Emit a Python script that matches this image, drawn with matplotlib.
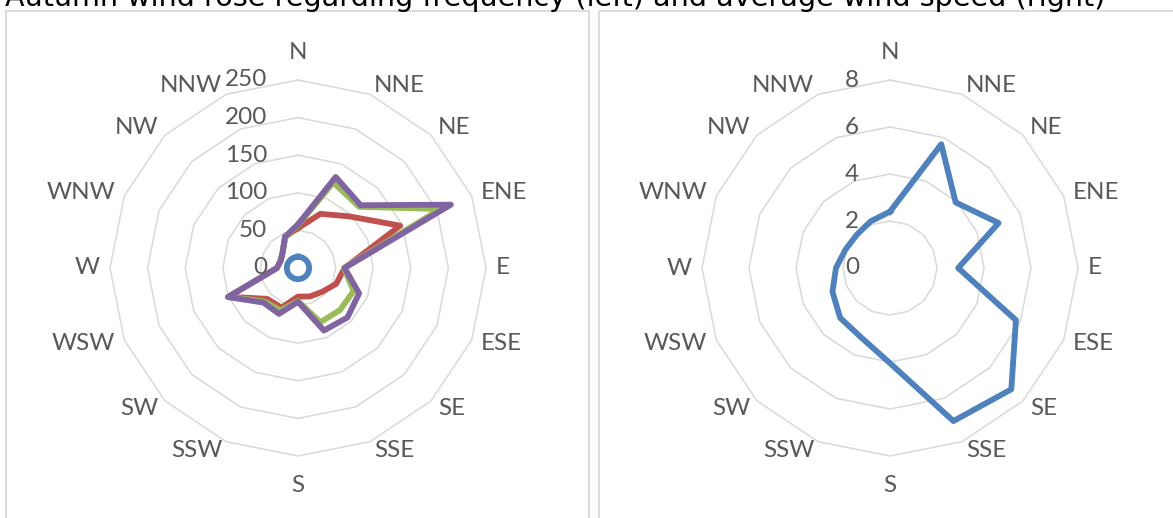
import numpy as np
import matplotlib
matplotlib.use('Agg')
import matplotlib.pyplot as plt
from matplotlib.transforms import offset_copy
from matplotlib.patches import Rectangle

# ---------------- data ----------------
directions = ['N', 'NNE', 'NE', 'ENE', 'E', 'ESE', 'SE', 'SSE',
              'S', 'SSW', 'SW', 'WSW', 'W', 'WNW', 'NW', 'NNW']
freq_blue = [15, 15, 15, 15, 15, 15, 15, 15, 15, 15, 15, 15, 15, 15, 15, 15]
freq_red = [53, 78, 97, 147, 62, 55, 45, 41, 38, 57, 58, 100, 28, 25, 29, 45]
freq_green = [57, 123, 115, 205, 61, 80, 79, 78, 44, 61, 63, 100, 28, 25, 29, 44]
freq_purple = [58, 131, 118, 220, 62, 88, 93, 90, 45, 66, 65, 101, 28, 25, 29, 45]
speed = [2.4, 5.7, 3.95, 5.0, 2.9, 5.8, 7.3, 7.05, 4.05, 3.2, 3.0, 2.65, 2.3, 2.05, 2.0, 2.15]
freq_ticks = [0, 50, 100, 150, 200, 250]
speed_ticks = [0, 2, 4, 6, 8]
title = "Autumn wind rose regarding frequency (left) and average wind speed (right)"

# ---------------- style ----------------
W, H = 1173, 518
C_BLUE, C_RED, C_GREEN, C_PURPLE = '#4F81BD', '#C0504D', '#9BBB59', '#8064A2'
GRID = '#D9D9D9'
TXT = '#595959'
FONT = 'Lato'
FS = 17.5

fig = plt.figure(figsize=(W / 100, H / 100), dpi=100)
fig.patch.set_facecolor('white')

# chart boxes
for x0 in (6, 599):
    fig.add_artist(Rectangle((x0 / W, -0.2), 583 / W, (H - 11) / H + 0.2,
                             transform=fig.transFigure, fill=False,
                             ec=GRID, lw=1.3, zorder=0))

R_PX = 188  # outer ring radius in pixels


def radar(cx, cy, series, colors, ticks):
    ax = fig.add_axes([(cx - R_PX) / W, (H - cy - R_PX) / H, 2 * R_PX / W, 2 * R_PX / H],
                      projection='polar')
    ax.set_theta_zero_location('N')
    ax.set_theta_direction(-1)
    ax.set_ylim(0, ticks[-1])
    ax.set_xticks([])
    ax.set_yticks([])
    ax.grid(False)
    ax.spines['polar'].set_visible(False)
    ax.patch.set_alpha(0)
    theta = np.deg2rad(np.arange(len(directions)) * 22.5)
    tc = np.append(theta, theta[0])
    for t in ticks[1:]:
        ax.plot(tc, [t] * len(tc), color=GRID, lw=1.1, zorder=1, clip_on=False)
    for vals, c in zip(series, colors):
        ax.plot(tc, list(vals) + [vals[0]], color=c, lw=4.2,
                solid_joinstyle='round', zorder=3, clip_on=False)
    # radial tick labels
    for t in ticks:
        ax.text(0, t, f"{t}", transform=offset_copy(ax.transData, fig=fig, x=-31, y=0, units='dots'),
                ha='right', va='center', color=TXT, fontsize=FS, family=FONT, zorder=4)
    # category labels
    for th, d in zip(theta, directions):
        s, c = np.sin(th), np.cos(th)
        if abs(s) < 0.01:
            ha = 'center'
            if c > 0:
                va, off = 'baseline', 21
            else:
                va, off = 'top', 19
        else:
            ha = 'left' if s > 0 else 'right'
            va, off = 'center', 10
        ax.text(th, ticks[-1], d,
                transform=offset_copy(ax.transData, fig=fig, x=off * s, y=off * c, units='dots'),
                ha=ha, va=va, color=TXT, fontsize=FS, family=FONT)
    return ax


radar(298, 268, [freq_blue, freq_red, freq_green, freq_purple],
      [C_BLUE, C_RED, C_GREEN, C_PURPLE], freq_ticks)
radar(890, 268, [speed], [C_BLUE], speed_ticks)

# title (cut off at the top as in the reference)
tt = fig.text(5 / W, 1 - 6 / H, title, ha='left', va='baseline',
              fontsize=20, family='DejaVu Sans', color='black')
fig.canvas.draw()
wpx = tt.get_window_extent().width
tt.set_fontsize(20 * 1100 / wpx)

fig.savefig('out.png', dpi=100)
